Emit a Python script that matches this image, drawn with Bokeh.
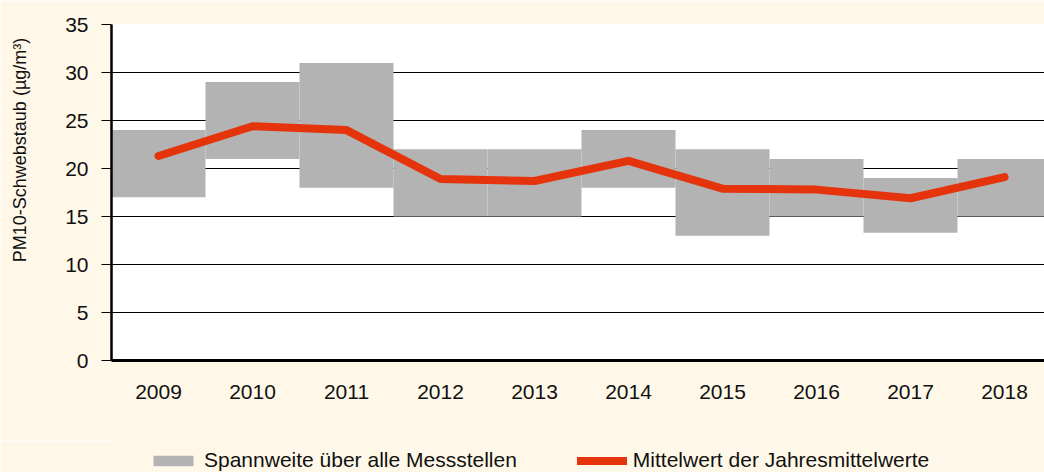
from bokeh.plotting import figure
from bokeh.models import Range1d, FixedTicker, Grid, Legend, LegendItem
from bokeh.layouts import column
from bokeh.embed import file_html
from bokeh.resources import INLINE

# ---- data ----
years = [2009, 2010, 2011, 2012, 2013, 2014, 2015, 2016, 2017, 2018]
range_min = [17.0, 21.0, 18.0, 15.0, 15.0, 18.0, 13.0, 15.0, 13.3, 15.0]
range_max = [24.0, 29.0, 31.0, 22.0, 22.0, 24.0, 22.0, 21.0, 19.0, 21.0]
mean_values = [21.3, 24.4, 24.0, 18.9, 18.7, 20.8, 17.9, 17.8, 16.9, 19.1]
y_ticks = [0, 5, 10, 15, 20, 25, 30, 35]

label_range = "Spannweite über alle Messstellen"
label_mean = "Mittelwert der Jahresmittelwerte"
y_title = "PM10-Schwebstaub (µg/m³)"

# ---- style ----
FONT = "Liberation Sans"
BG = "#FFF8E8"
GREY = "#B3B3B3"
RED = "#E5330B"
TXT = "#111111"

W = 1044
H_MAIN, H_LEG = 440, 32
LEFT, TOP, BOTTOM, RIGHT = 111, 24, 80, 0
px_per_year = 94.0
frame_w = W - LEFT - RIGHT
# leading no-break spaces shift the centred axis title upwards (as in the original)
TITLE_PAD = "\u00a0" * 17

p = figure(width=W, height=H_MAIN, output_backend="svg", toolbar_location=None,
           x_range=Range1d(years[0] - 0.5, years[0] - 0.5 + frame_w / px_per_year),
           y_range=Range1d(0, 35),
           min_border_left=LEFT, min_border_top=TOP,
           min_border_bottom=BOTTOM, min_border_right=RIGHT)
p.background_fill_color = "white"
p.border_fill_color = BG
p.outline_line_color = None

# grid
p.xgrid.visible = False
p.ygrid.ticker = FixedTicker(ticks=y_ticks[1:-1])
p.ygrid.grid_line_color = "black"
p.ygrid.grid_line_width = 1
top_grid = Grid(dimension=1, ticker=FixedTicker(ticks=[35]),
                grid_line_color="black", grid_line_width=2.5)
p.add_layout(top_grid)

# axes
xa = p.xaxis[0]
xa.ticker = FixedTicker(ticks=years)
xa.axis_line_color = "black"
xa.axis_line_width = 3
xa.major_tick_line_color = None
xa.minor_tick_line_color = None
xa.major_label_text_font = FONT
xa.major_label_text_font_size = "21px"
xa.major_label_text_color = TXT
xa.major_label_standoff = 18

ya = p.yaxis[0]
ya.ticker = FixedTicker(ticks=y_ticks)
ya.axis_line_color = "black"
ya.axis_line_width = 2.5
ya.major_tick_out = 10
ya.major_tick_in = 0
ya.major_tick_line_color = "black"
ya.major_tick_line_width = 1
ya.minor_tick_line_color = None
ya.major_label_text_font = FONT
ya.major_label_text_font_size = "21px"
ya.major_label_text_color = TXT
ya.major_label_standoff = 13
ya.axis_label = TITLE_PAD + y_title
ya.axis_label_text_font = FONT
ya.axis_label_text_font_size = "18px"
ya.axis_label_text_font_style = "normal"
ya.axis_label_text_color = TXT
ya.axis_label_standoff = 32

# glyphs
p.vbar(x=years, width=1.0, bottom=range_min, top=range_max,
       fill_color=GREY, line_color=None)
p.line(x=years, y=mean_values, line_color=RED, line_width=8,
       line_cap="round", line_join="round")

# legend strip (separate small figure; its renderers lie outside its view)
lf = figure(width=W, height=H_LEG, output_backend="svg", toolbar_location=None,
            x_range=Range1d(0, 1), y_range=Range1d(0, 1),
            x_axis_location=None, y_axis_location=None,
            min_border_left=LEFT, min_border_right=0,
            min_border_top=0, min_border_bottom=0)
lf.grid.visible = False
lf.outline_line_color = None
lf.background_fill_color = BG
lf.border_fill_color = BG
rb = lf.vbar(x=years, width=1.0, bottom=range_min, top=range_max,
             fill_color=GREY, line_color=None)
rl = lf.line(x=years, y=mean_values, line_color=RED, line_width=8,
             line_cap="round")

lg = Legend(items=[LegendItem(label=label_range, renderers=[rb]),
                   LegendItem(label=label_mean, renderers=[rl])])
lg.orientation = "horizontal"
lg.location = (148 - LEFT, 0)
lg.padding = 0
lg.margin = 0
lg.spacing = 60
lg.glyph_width = 50
lg.glyph_height = 13
lg.label_standoff = 6
lg.label_text_font = FONT
lg.label_text_font_size = "21px"
lg.label_text_color = TXT
lg.border_line_color = None
lg.background_fill_alpha = 0
lf.add_layout(lg)

layout = column(p, lf, spacing=0)
open("out.html", "w").write(file_html(layout, INLINE))
